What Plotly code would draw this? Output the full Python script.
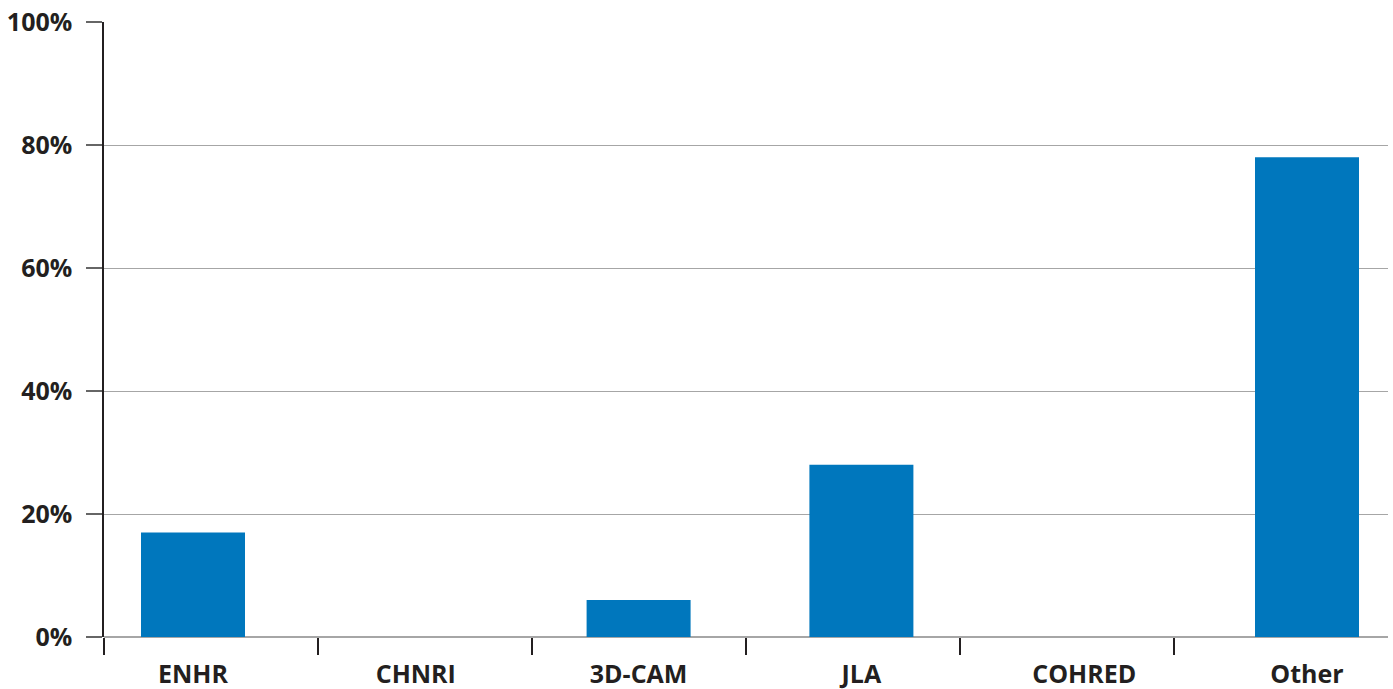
import plotly.graph_objects as go

categories = ["ENHR", "CHNRI", "3D-CAM", "JLA", "COHRED", "Other"]
values = [17, 0, 6, 28, 0, 78]
y_ticks = [0, 20, 40, 60, 80, 100]
y_tick_labels = ["0%", "20%", "40%", "60%", "80%", "100%"]

font_family = "Open Sans"
text_color = "#231f20"
grid_color = "#a6a6a6"

positions = list(range(len(categories)))

# pixel layout of the reference: bar pitch ~222.8px, first bar centre at 193px, plot from 104 to 1388
pitch = 222.8
first_center = 193.0
x_lo = (104 - first_center) / pitch
x_hi = (1388 - first_center) / pitch
boundary_px = [104, 318, 532, 746, 960, 1174]
boundary_vals = [(p - first_center) / pitch for p in boundary_px]

fig = go.Figure(
    go.Bar(x=positions, y=values, width=104 / pitch,
           marker=dict(color="#0077bd", line=dict(width=0)))
)

fig.update_layout(
    width=1393,
    height=689,
    margin=dict(l=104, r=5, t=22, b=52),
    paper_bgcolor="white",
    plot_bgcolor="white",
    showlegend=False,
    font=dict(family=font_family, size=25, color=text_color, weight="bold"),
)

fig.update_xaxes(
    automargin=False,
    range=[x_lo, x_hi],
    tickmode="array",
    tickvals=positions,
    ticktext=categories,
    ticks="outside",
    ticklen=15,
    tickcolor="rgba(0,0,0,0)",
    minor=dict(
        tickmode="array",
        tickvals=boundary_vals,
        ticks="outside",
        ticklen=17,
        tickwidth=1.5,
        tickcolor=text_color,
        showgrid=False,
    ),
    showgrid=False,
    zeroline=False,
    showline=False,
    ticklabelstandoff=0,
    tickfont=dict(family=font_family, size=25, color=text_color, weight="bold"),
)

fig.update_yaxes(
    automargin=False,
    range=[0, 100],
    tickvals=y_ticks,
    ticktext=y_tick_labels,
    ticks="outside",
    ticklen=16,
    tickwidth=1.5,
    tickcolor="#666666",
    showgrid=True,
    gridcolor=grid_color,
    gridwidth=1.2,
    zeroline=True,
    zerolinecolor=grid_color,
    zerolinewidth=1.5,
    showline=True,
    linecolor=text_color,
    linewidth=1.5,
    ticklabelstandoff=9,
    tickfont=dict(family=font_family, size=25, color=text_color, weight="bold"),
)

fig.write_html("out.html")
